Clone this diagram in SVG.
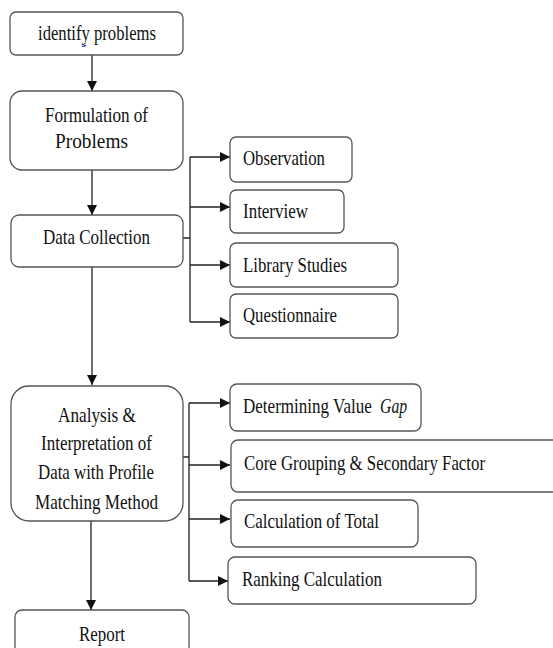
<svg xmlns="http://www.w3.org/2000/svg" width="553" height="648" viewBox="0 0 553 648" font-family="Liberation Serif, Times New Roman, serif">
<style>
.box{fill:#fff;stroke:#555;stroke-width:1.3}
.t{font-size:21px;fill:#111}
.ln{fill:none;stroke:#222;stroke-width:1.3}
</style>
<defs>
<marker id="ah" markerUnits="userSpaceOnUse" markerWidth="10" markerHeight="10" viewBox="0 0 10 10" refX="10" refY="5" orient="auto">
<path d="M0,0 L10,5 L0,10 Z" fill="#111"/>
</marker>
</defs>
<rect width="553" height="648" fill="#fff"/>
<g id="connectors">
<path class="ln" d="M92,55 V91" marker-end="url(#ah)"/>
<path class="ln" d="M92,170 V215" marker-end="url(#ah)"/>
<path class="ln" d="M92,267 V385" marker-end="url(#ah)"/>
<path class="ln" d="M91,521 V610" marker-end="url(#ah)"/>
<path class="ln" d="M183,238 H190 M190,157 V322"/>
<path class="ln" d="M190,157 H230" marker-end="url(#ah)"/>
<path class="ln" d="M190,207 H230" marker-end="url(#ah)"/>
<path class="ln" d="M190,265 H230" marker-end="url(#ah)"/>
<path class="ln" d="M190,322 H230" marker-end="url(#ah)"/>
<path class="ln" d="M183,457 H189 M189,403 V581"/>
<path class="ln" d="M189,403 H230" marker-end="url(#ah)"/>
<path class="ln" d="M189,465 H230" marker-end="url(#ah)"/>
<path class="ln" d="M189,519 H230" marker-end="url(#ah)"/>
<path class="ln" d="M189,581 H228" marker-end="url(#ah)"/>
</g>
<g id="identify">
<rect class="box" x="10" y="12" width="173" height="43" rx="6"/>
<text class="t" x="38" y="40" textLength="118" lengthAdjust="spacingAndGlyphs">identify problems</text>
<path d="M82,46 q2,1 4,-1" fill="none" stroke="#2233cc" stroke-width="1.2"/>
</g>
<g id="formulation">
<rect class="box" x="10" y="91" width="173" height="79" rx="12"/>
<text class="t" x="45" y="122" textLength="103" lengthAdjust="spacingAndGlyphs">Formulation of</text>
<text class="t" x="55" y="148" textLength="73" lengthAdjust="spacingAndGlyphs">Problems</text>
</g>
<g id="datacollection">
<rect class="box" x="11" y="215" width="172" height="52" rx="8"/>
<text class="t" x="43" y="244" textLength="107" lengthAdjust="spacingAndGlyphs">Data Collection</text>
</g>
<g id="observation">
<rect class="box" x="230" y="137" width="122" height="45" rx="6"/>
<text class="t" x="243" y="165" textLength="82" lengthAdjust="spacingAndGlyphs">Observation</text>
</g>
<g id="interview">
<rect class="box" x="230" y="190" width="114" height="43" rx="6"/>
<text class="t" x="243" y="218" textLength="65" lengthAdjust="spacingAndGlyphs">Interview</text>
</g>
<g id="library">
<rect class="box" x="230" y="243" width="168" height="44" rx="6"/>
<text class="t" x="243" y="272" textLength="104" lengthAdjust="spacingAndGlyphs">Library Studies</text>
</g>
<g id="questionnaire">
<rect class="box" x="230" y="294" width="168" height="44" rx="6"/>
<text class="t" x="243" y="322" textLength="94" lengthAdjust="spacingAndGlyphs">Questionnaire</text>
</g>
<g id="analysis">
<rect class="box" x="11" y="386" width="172" height="135" rx="18"/>
<text class="t" x="58" y="422" textLength="78" lengthAdjust="spacingAndGlyphs">Analysis &amp;</text>
<text class="t" x="41" y="450" textLength="111" lengthAdjust="spacingAndGlyphs">Interpretation of</text>
<text class="t" x="38" y="479" textLength="116" lengthAdjust="spacingAndGlyphs">Data with Profile</text>
<text class="t" x="35" y="509" textLength="123" lengthAdjust="spacingAndGlyphs">Matching Method</text>
</g>
<g id="gap">
<rect class="box" x="230" y="384" width="191" height="47" rx="7"/>
<text class="t" transform="translate(243,413) scale(0.8,1)" x="0" y="0" textLength="161" lengthAdjust="spacingAndGlyphs">Determining Value</text>
<text class="t" transform="translate(380,413) scale(0.8,1)" x="0" y="0" textLength="34" lengthAdjust="spacingAndGlyphs" font-style="italic">Gap</text>
</g>
<g id="core">
<rect class="box" x="231" y="440" width="340" height="52" rx="7"/>
<text class="t" x="244" y="470" textLength="241" lengthAdjust="spacingAndGlyphs">Core Grouping &amp; Secondary Factor</text>
</g>
<g id="total">
<rect class="box" x="231" y="500" width="187" height="47" rx="7"/>
<text class="t" x="244" y="528" textLength="135" lengthAdjust="spacingAndGlyphs">Calculation of Total</text>
</g>
<g id="ranking">
<rect class="box" x="228" y="557" width="248" height="47" rx="7"/>
<text class="t" x="242" y="586" textLength="140" lengthAdjust="spacingAndGlyphs">Ranking Calculation</text>
</g>
<g id="report">
<rect class="box" x="15" y="610" width="174" height="50" rx="7"/>
<text class="t" x="79" y="641" textLength="46" lengthAdjust="spacingAndGlyphs">Report</text>
</g>
</svg>
